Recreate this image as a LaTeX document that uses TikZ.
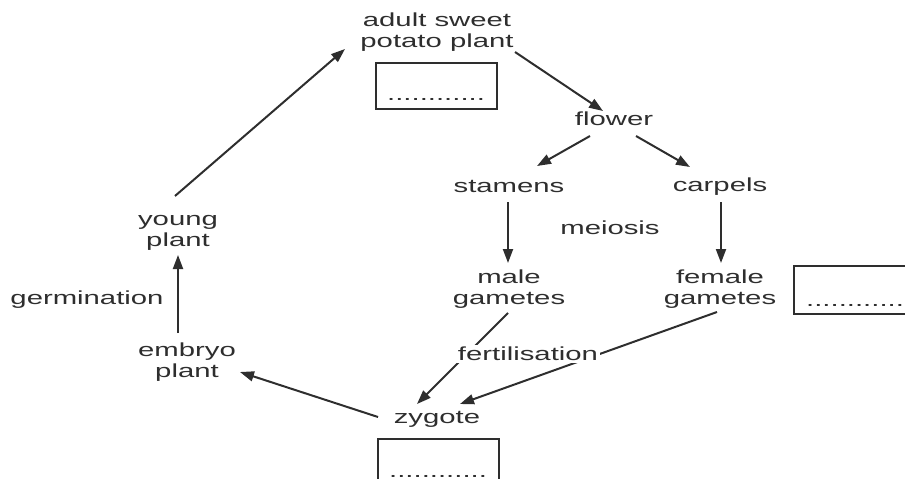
\documentclass[tikz,border=0pt]{standalone}
\usepackage{fontspec}
\setmainfont{Liberation Sans}[FakeStretch=1.55]
\usetikzlibrary{arrows.meta}
\definecolor{ink}{gray}{0.18}
\begin{document}
\begin{tikzpicture}[x=1pt,y=-1pt,
  font=\fontsize{18.9}{21.5}\selectfont,
  lbl/.style={align=center,text=ink,inner sep=0pt},
  fert/.style={lbl,fill=white,inner sep=2pt},
  arr/.style={draw=ink,line width=2pt,-{Triangle[length=14pt,width=10pt]}},
  answer/.style={draw=ink,line width=2pt,minimum width=121pt,minimum height=46pt,anchor=north west,inner sep=0pt},
  dotsline/.style={lbl,anchor=base west}]
\useasboundingbox (0,0) rectangle (905,479);
% text nodes
\node[lbl] (adult) at (437,32) {adult sweet\\potato plant};
\node[lbl] (flower) at (614,119) {flower};
\node[lbl] (stamens) at (509,186) {stamens};
\node[lbl] (carpels) at (720,187) {carpels};
\node[lbl] (meiosis) at (610,228) {meiosis};
\node[lbl] (male) at (509,289) {male\\gametes};
\node[lbl] (female) at (720,289) {female\\gametes};
\node[lbl] (young) at (178,233) {young\\plant};
\node[lbl] (embryo) at (187,362) {embryo\\plant};
\node[lbl] (germ) at (87,300) {germination};
\node[lbl] (zygote) at (437,419) {zygote};
% answer boxes
\node[answer] (box1) at (375,62) {};
\node[dotsline] (dots1) at (387,100.5) {............};
\node[answer,minimum width=130pt,minimum height=48pt] (box2) at (793,265) {};
\node[dotsline] (dots2) at (806,306.5) {............};
\node[answer,minimum height=48pt] (box3) at (377,438) {};
\node[dotsline] (dots3) at (389,477) {............};
% connector end points
\coordinate (yA) at (175,196);   \coordinate (aY) at (345,49);
\coordinate (aF) at (515,52);    \coordinate (fA) at (603,111);
\coordinate (fS) at (590,136);   \coordinate (sF) at (537,166);
\coordinate (fC) at (636,136);   \coordinate (cF) at (690,167);
\coordinate (sM) at (508,202);   \coordinate (mS) at (508,263);
\coordinate (cFe) at (721,202);  \coordinate (feC) at (721,263);
\coordinate (eY) at (178,333);   \coordinate (yE) at (178,255);
\coordinate (zE) at (378,417);   \coordinate (eZ) at (240,372);
\coordinate (mZ) at (508,313);   \coordinate (zM) at (417,404);
\coordinate (feZ) at (717,312);  \coordinate (zFe) at (460,404);
% connectors
\draw[arr] (yA) -- (aY);
\draw[arr] (aF) -- (fA);
\draw[arr] (fS) -- (sF);
\draw[arr] (fC) -- (cF);
\draw[arr] (sM) -- (mS);
\draw[arr] (cFe) -- (feC);
\draw[arr] (eY) -- (yE);
\draw[arr] (zE) -- (eZ);
\draw[arr] (mZ) -- (zM);
\draw[arr] (feZ) -- (zFe);
\node[fert] (fertil) at (528,354) {fertilisation};
\end{tikzpicture}
\end{document}
